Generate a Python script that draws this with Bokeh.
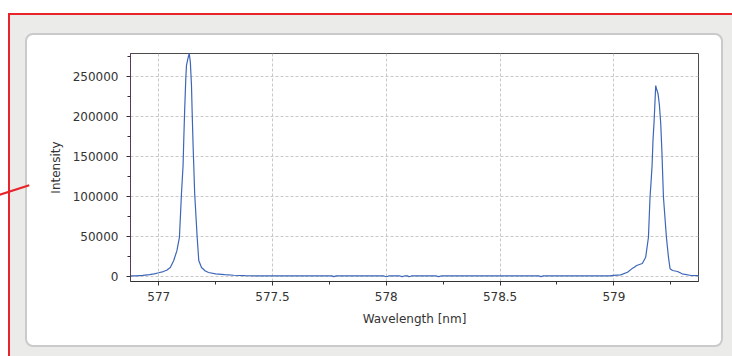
from bokeh.plotting import figure
from bokeh.layouts import column
from bokeh.models import Range1d, SingleIntervalTicker, CustomJSTickFormatter
from bokeh.embed import file_html
from bokeh.resources import INLINE

# Spectrum (wavelength in nm, intensity in counts)
wavelength = [576.876, 576.90, 576.93, 576.96, 576.98, 577.00, 577.02, 577.035, 577.051, 577.066,
              577.08, 577.091, 577.100, 577.107, 577.110, 577.114, 577.119, 577.122, 577.128, 577.134,
              577.139, 577.144, 577.147, 577.151, 577.154, 577.158, 577.169, 577.176, 577.188, 577.205,
              577.219, 577.25, 577.29, 577.33, 577.38, 577.45, 577.50, 577.60, 577.70, 577.76,
              577.77, 577.78, 577.90, 577.99, 578.00, 578.01, 578.06, 578.07, 578.08, 578.095,
              578.10, 578.11, 578.22, 578.23, 578.24, 578.40, 578.55, 578.67, 578.68, 578.69,
              578.85, 578.98, 579.00, 579.03, 579.06, 579.08, 579.09, 579.10, 579.125, 579.14,
              579.152, 579.159, 579.164, 579.168, 579.172, 579.177, 579.181, 579.184, 579.188, 579.194,
              579.200, 579.206, 579.211, 579.215, 579.218, 579.231, 579.240, 579.247, 579.258, 579.280,
              579.300, 579.340, 579.374]
intensity = [300, 500, 1000, 2000, 3000, 4300, 5800, 7500, 10900, 19700,
             32000, 48500, 103500, 138600, 169900, 207600, 247500, 263800, 272000, 279000,
             268000, 238700, 205000, 164000, 138600, 103500, 48500, 19700, 10900, 6500,
             4600, 3000, 2000, 1200, 600, 400, 400, 400, 350, 350,
             -600, 350, 350, 300, -700, 300, 300, -500, 300, 300,
             -700, 300, 300, -600, 300, 350, 350, 350, -500, 350,
             400, 500, 1000, 1700, 5000, 9500, 11300, 13400, 15900, 23800,
             48800, 98900, 120000, 138600, 170000, 194600, 219600, 238700, 234000, 228800,
             215000, 191200, 157400, 123600, 98900, 48800, 23800, 9300, 7100, 5900,
             3000, 900, 700]

x_title = "Wavelength [nm]"
y_title = "Intensity"

FONT = "DejaVu Sans"
TXT = "#333333"
GREY = "#ebebe9"
RED = "#e8232a"

p = figure(width=694, height=310,
           x_range=Range1d(576.876, 579.372), y_range=Range1d(-6640, 278800),
           output_backend="svg", toolbar_location=None,
           min_border_left=103, min_border_right=23, min_border_top=18, min_border_bottom=64)

p.border_fill_color = "white"
p.border_fill_alpha = 0
p.background_fill_color = "white"
p.outline_line_color = "#4a4a4a"
p.outline_line_width = 1

p.line(wavelength, intensity, line_color="#3d66b8", line_width=1.2)

# axes
p.xaxis.ticker = SingleIntervalTicker(interval=0.5, num_minor_ticks=2)
p.yaxis.ticker = SingleIntervalTicker(interval=50000, num_minor_ticks=2)
p.xaxis.formatter = CustomJSTickFormatter(code="return String(Math.round(tick*100)/100);")
p.yaxis.formatter = CustomJSTickFormatter(code="return String(Math.round(tick));")

p.xaxis.axis_label = x_title
p.yaxis.axis_label = y_title
for ax in (p.xaxis[0], p.yaxis[0]):
    ax.major_label_text_font = FONT
    ax.major_label_text_font_size = "12px"
    ax.major_label_text_color = TXT
    ax.axis_label_text_font = FONT
    ax.axis_label_text_font_size = "12px"
    ax.axis_label_text_font_style = "normal"
    ax.axis_label_text_color = TXT
    ax.major_tick_in = 0
    ax.major_tick_out = 4
    ax.minor_tick_in = 0
    ax.minor_tick_out = 3
    ax.major_tick_line_color = "#333333"
    ax.minor_tick_line_color = "#333333"
p.xaxis.axis_line_color = "#333333"
p.yaxis.axis_line_color = "#5b3b5b"
p.yaxis.major_label_standoff = 8
p.xaxis.major_label_standoff = 6
p.xaxis.axis_label_standoff = 8
p.yaxis.axis_label_standoff = 7

p.grid.grid_line_color = "#c8c8c8"
p.grid.grid_line_dash = "3 2"
p.grid.grid_line_width = 1

# white rounded panel holding the chart
panel = column(p, styles={"background-color": "white",
                          "border": "2px solid #cacaca",
                          "border-radius": "8px",
                          "box-sizing": "content-box"})

# grey window area with the red screenshot frame
diag = (":host { position: relative; }"
        ":host::before { content: ''; position: absolute; left: -11px; top: 174px;"
        " width: 31px; height: 2px; background: " + RED + ";"
        " transform: rotate(-17.8deg); z-index: 5; }")
outer = column(panel, styles={"background-color": GREY,
                              "border-top": "2px solid " + RED,
                              "border-left": "2px solid " + RED,
                              "padding": "18px 9px 9px 15px",
                              "margin": "13px 0 0 8px",
                              "box-sizing": "content-box"},
               stylesheets=[diag])

open("out.html", "w").write(file_html(outer, INLINE))
